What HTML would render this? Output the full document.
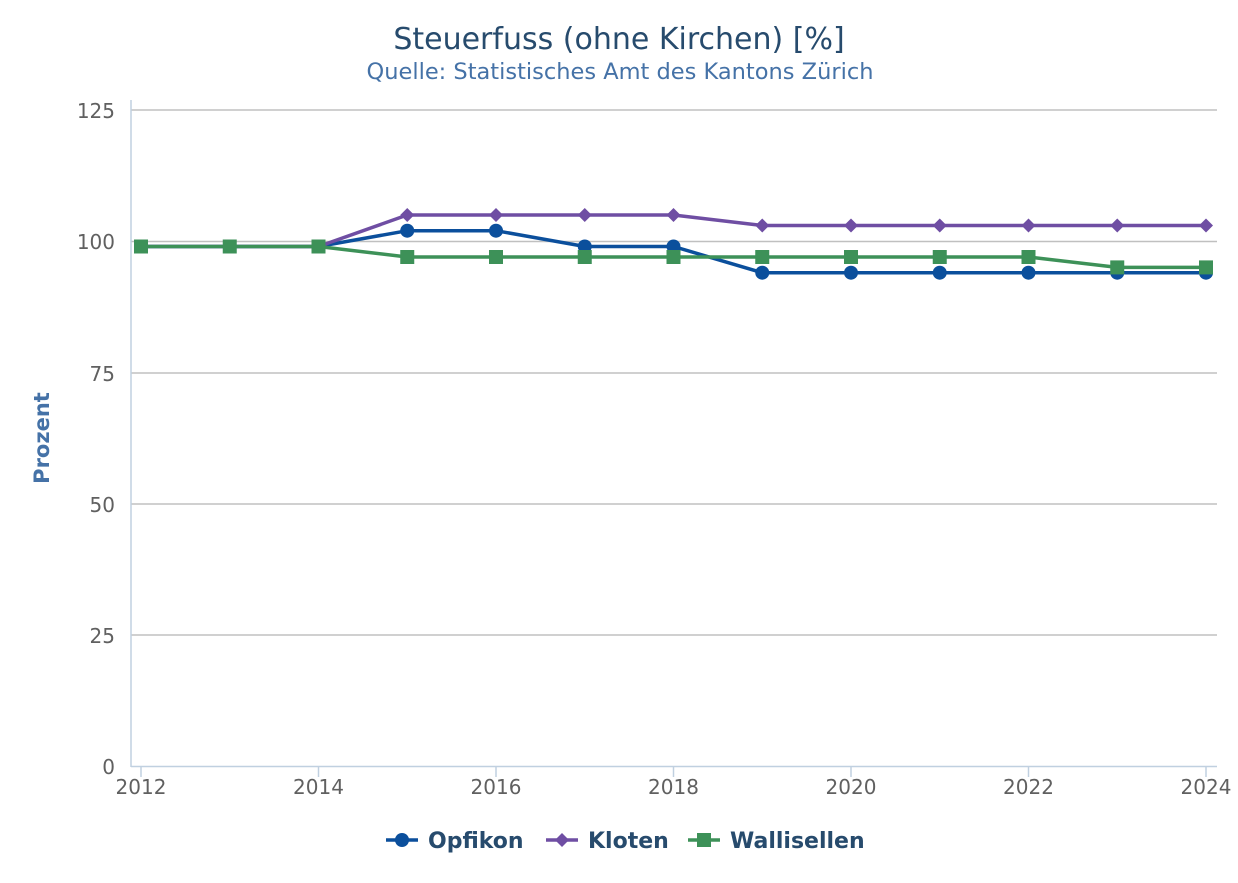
<!DOCTYPE html>
<html><head><meta charset="utf-8"><style>
body{margin:0;background:#fff;}
svg text{font-family:"DejaVu Sans","Liberation Sans",sans-serif;}
</style></head><body>
<svg width="1238" height="878" viewBox="0 0 1238 878" xmlns="http://www.w3.org/2000/svg">
<rect width="1238" height="878" fill="#fff"/>
<text x="619" y="49" text-anchor="middle" font-size="30" fill="#274b6d">Steuerfuss (ohne Kirchen) [%]</text>
<text x="620" y="79" text-anchor="middle" font-size="22.5" fill="#4572a7">Quelle: Statistisches Amt des Kantons Zürich</text>
<g stroke="#c0c0c0" stroke-width="1.5">
<line x1="131" x2="1217" y1="110" y2="110"/>
<line x1="131" x2="1217" y1="241.5" y2="241.5"/>
<line x1="131" x2="1217" y1="373" y2="373"/>
<line x1="131" x2="1217" y1="504" y2="504"/>
<line x1="131" x2="1217" y1="635" y2="635"/>
</g>
<line x1="131" x2="131" y1="100" y2="767" stroke="#c0d0e0" stroke-width="1.5"/>
<line x1="131" x2="1217" y1="766.5" y2="766.5" stroke="#c0d0e0" stroke-width="1.5"/>
<g stroke="#c0d0e0" stroke-width="1.5">
<line x1="141" x2="141" y1="767" y2="777"/><line x1="318.5" x2="318.5" y1="767" y2="777"/>
<line x1="496" x2="496" y1="767" y2="777"/><line x1="673.5" x2="673.5" y1="767" y2="777"/>
<line x1="851" x2="851" y1="767" y2="777"/><line x1="1028.5" x2="1028.5" y1="767" y2="777"/>
<line x1="1206" x2="1206" y1="767" y2="777"/>
</g>
<g font-size="20" fill="#606060" text-anchor="end">
<text x="115" y="118">125</text><text x="115" y="249">100</text><text x="115" y="381">75</text>
<text x="115" y="512">50</text><text x="115" y="643">25</text><text x="115" y="774">0</text>
</g>
<g font-size="20" fill="#606060" text-anchor="middle">
<text x="141" y="794">2012</text><text x="318.5" y="794">2014</text><text x="496" y="794">2016</text>
<text x="673.5" y="794">2018</text><text x="851" y="794">2020</text><text x="1028.5" y="794">2022</text>
<text x="1206" y="794">2024</text>
</g>
<text transform="translate(49,438) rotate(-90)" text-anchor="middle" font-size="21" font-weight="bold" fill="#4572a7">Prozent</text>
<polyline fill="none" stroke="#0b4f9c" stroke-width="3.5" points="141,246.5 229.75,246.5 318.5,246.5 407.25,230.7 496,230.7 584.75,246.5 673.5,246.5 762.25,272.7 851,272.7 939.75,272.7 1028.5,272.7 1117.25,272.7 1206,272.7"/>
<g fill="#0b4f9c">
<circle cx="141" cy="246.5" r="7"/><circle cx="229.75" cy="246.5" r="7"/><circle cx="318.5" cy="246.5" r="7"/>
<circle cx="407.25" cy="230.7" r="7"/><circle cx="496" cy="230.7" r="7"/><circle cx="584.75" cy="246.5" r="7"/>
<circle cx="673.5" cy="246.5" r="7"/><circle cx="762.25" cy="272.7" r="7"/><circle cx="851" cy="272.7" r="7"/>
<circle cx="939.75" cy="272.7" r="7"/><circle cx="1028.5" cy="272.7" r="7"/><circle cx="1117.25" cy="272.7" r="7"/>
<circle cx="1206" cy="272.7" r="7"/>
</g>
<polyline fill="none" stroke="#6f4ea3" stroke-width="3.5" points="141,246.5 229.75,246.5 318.5,246.5 407.25,215 496,215 584.75,215 673.5,215 762.25,225.5 851,225.5 939.75,225.5 1028.5,225.5 1117.25,225.5 1206,225.5"/>
<g fill="#6f4ea3">
<path d="M141,239.5l7,7l-7,7l-7,-7z"/><path d="M229.75,239.5l7,7l-7,7l-7,-7z"/><path d="M318.5,239.5l7,7l-7,7l-7,-7z"/>
<path d="M407.25,208l7,7l-7,7l-7,-7z"/><path d="M496,208l7,7l-7,7l-7,-7z"/><path d="M584.75,208l7,7l-7,7l-7,-7z"/>
<path d="M673.5,208l7,7l-7,7l-7,-7z"/><path d="M762.25,218.5l7,7l-7,7l-7,-7z"/><path d="M851,218.5l7,7l-7,7l-7,-7z"/>
<path d="M939.75,218.5l7,7l-7,7l-7,-7z"/><path d="M1028.5,218.5l7,7l-7,7l-7,-7z"/><path d="M1117.25,218.5l7,7l-7,7l-7,-7z"/>
<path d="M1206,218.5l7,7l-7,7l-7,-7z"/>
</g>
<polyline fill="none" stroke="#3d9158" stroke-width="3.5" points="141,246.5 229.75,246.5 318.5,246.5 407.25,257 496,257 584.75,257 673.5,257 762.25,257 851,257 939.75,257 1028.5,257 1117.25,267.4 1206,267.4"/>
<g fill="#3d9158">
<rect x="134" y="239.5" width="14" height="14"/><rect x="222.75" y="239.5" width="14" height="14"/><rect x="311.5" y="239.5" width="14" height="14"/>
<rect x="400.25" y="250" width="14" height="14"/><rect x="489" y="250" width="14" height="14"/><rect x="577.75" y="250" width="14" height="14"/>
<rect x="666.5" y="250" width="14" height="14"/><rect x="755.25" y="250" width="14" height="14"/><rect x="844" y="250" width="14" height="14"/>
<rect x="932.75" y="250" width="14" height="14"/><rect x="1021.5" y="250" width="14" height="14"/><rect x="1110.25" y="260.4" width="14" height="14"/>
<rect x="1199" y="260.4" width="14" height="14"/>
</g>
<line x1="386" x2="418" y1="840" y2="840" stroke="#0b4f9c" stroke-width="3.5"/><circle cx="402" cy="840" r="7" fill="#0b4f9c"/>
<text x="428" y="848" font-size="22" font-weight="bold" fill="#274b6d">Opfikon</text>
<line x1="546" x2="578" y1="840" y2="840" stroke="#6f4ea3" stroke-width="3.5"/><path d="M562,833l7,7l-7,7l-7,-7z" fill="#6f4ea3"/>
<text x="588" y="848" font-size="22" font-weight="bold" fill="#274b6d">Kloten</text>
<line x1="688" x2="720" y1="840" y2="840" stroke="#3d9158" stroke-width="3.5"/><rect x="697" y="833" width="14" height="14" fill="#3d9158"/>
<text x="730" y="848" font-size="22" font-weight="bold" fill="#274b6d">Wallisellen</text>
</svg>
</body></html>
